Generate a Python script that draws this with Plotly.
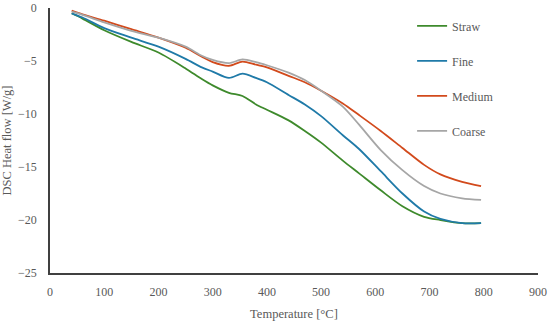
import plotly.graph_objects as go

temperature = [40, 60, 100, 150, 200, 250, 280, 300, 330, 355, 380, 400, 440, 470,
               500, 540, 570, 610, 650, 690, 720, 760, 795]

straw = [-0.5, -1.0, -2.1, -3.2, -4.2, -5.7, -6.7, -7.3, -8.0, -8.3, -9.1, -9.6, -10.6,
         -11.6, -12.7, -14.4, -15.6, -17.2, -18.7, -19.7, -20.0, -20.3, -20.3]
fine = [-0.5, -0.9, -1.9, -2.8, -3.65, -4.8, -5.6, -6.0, -6.6, -6.2, -6.6, -7.0, -8.2,
        -9.1, -10.2, -12.0, -13.3, -15.4, -17.5, -19.2, -19.9, -20.3, -20.3]
medium = [-0.25, -0.6, -1.2, -2.0, -2.8, -3.75, -4.6, -5.1, -5.45, -5.05, -5.35, -5.6,
          -6.4, -7.0, -7.8, -9.0, -10.1, -11.6, -13.2, -14.8, -15.7, -16.4, -16.8]
coarse = [-0.35, -0.65, -1.35, -2.15, -2.8, -3.65, -4.5, -4.9, -5.2, -4.85, -5.1, -5.4,
          -6.1, -6.8, -7.8, -9.3, -11.0, -13.4, -15.3, -16.8, -17.5, -17.95, -18.1]

series_names = ["Straw", "Fine", "Medium", "Coarse"]
series_values = [straw, fine, medium, coarse]
colors = ["#3e8a2c", "#1f7aa8", "#d24a1c", "#a6a6a6"]

FONT = "Liberation Serif"
TXT = "#595959"
FS = 12

fig = go.Figure()
for name, vals, col in zip(series_names, series_values, colors):
    fig.add_trace(go.Scatter(
        x=temperature, y=vals, mode="lines", name=name, legendgroup=name,
        line=dict(color=col, width=1.8, shape="spline", smoothing=0.8),
    ))

fig.update_layout(
    width=550, height=324,
    margin=dict(l=50, r=12, t=8, b=51),
    paper_bgcolor="white", plot_bgcolor="white",
    font=dict(family=FONT, size=FS, color=TXT),
    showlegend=True,
    legend=dict(x=0.742, y=0.987, xanchor="left", yanchor="top",
                bgcolor="rgba(0,0,0,0)", tracegroupgap=16,
                font=dict(family=FONT, size=FS, color=TXT)),
    xaxis=dict(range=[0, 900], dtick=100, tick0=0, showgrid=False, zeroline=False,
               showline=True, linecolor="#404040", linewidth=1.5, ticks="",
               ticklabelstandoff=7, automargin=False,
               title=dict(text="Temperature [°C]", font=dict(family=FONT, size=12.5, color=TXT),
                          standoff=11)),
    yaxis=dict(range=[-25, 0], dtick=5, tick0=0, showgrid=False, zeroline=False,
               showline=True, linecolor="#404040", linewidth=1.5, ticks="",
               ticklabelstandoff=9, automargin=False,
               title=dict(text="DSC Heat flow [W/g]", font=dict(family=FONT, size=12.5, color=TXT),
                          standoff=4)),
)

fig.write_html("out.html", config={"displayModeBar": False},
               post_script="document.body.style.margin='0';")
